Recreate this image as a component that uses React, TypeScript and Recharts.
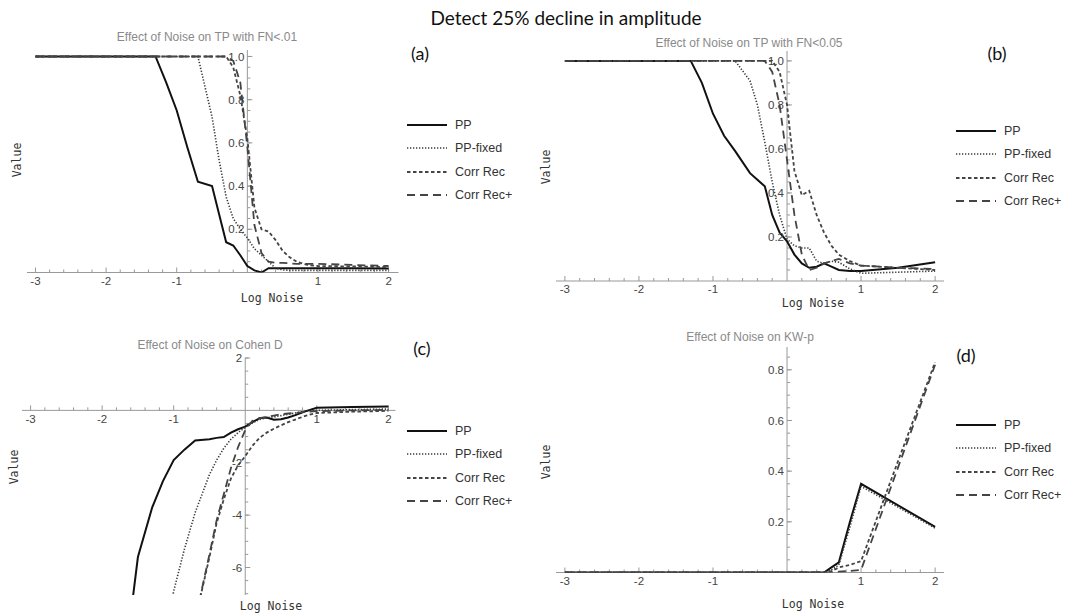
import React from 'react'
import { LineChart, Line, XAxis, YAxis, ReferenceLine, ReferenceDot } from 'recharts'

// log10 of noise level, shared by every panel
const logNoise = [-3, -2.5, -2, -1.7, -1.5, -1.3, -1.15, -1, -0.85, -0.7, -0.5, -0.4, -0.3, -0.2, -0.1, 0, 0.1, 0.2, 0.3, 0.4, 0.5, 0.6, 0.7, 0.85, 1, 1.5, 2]

// (a) TP with FN<.01
const ppA = [1, 1, 1, 1, 1, 1, 0.88, 0.75, 0.58, 0.42, 0.4, 0.27, 0.14, 0.125, 0.08, 0.03, 0.01, 0, 0.02, 0.02, 0.02, 0.02, 0.02, 0.02, 0.02, 0.02, 0.018]
const ppFixedA = [1, 1, 1, 1, 1, 1, 1, 1, 1, 1, 0.72, 0.52, 0.35, 0.25, 0.2, 0.16, 0.11, 0.08, 0.05, 0.02, 0.012, 0.01, 0.01, 0.01, 0.01, 0.01, 0.01]
const corrRecA = [1, 1, 1, 1, 1, 1, 1, 1, 1, 1, 1, 1, 1, 0.95, 0.82, 0.62, 0.3, 0.2, 0.19, 0.15, 0.1, 0.07, 0.05, 0.035, 0.03, 0.028, 0.025]
const corrRecPlusA = [1, 1, 1, 1, 1, 1, 1, 1, 1, 1, 1, 1, 1, 0.98, 0.88, 0.58, 0.22, 0.09, 0.05, 0.045, 0.045, 0.042, 0.04, 0.04, 0.04, 0.035, 0.03]

// (b) TP with FN<0.05
const ppB = [1, 1, 1, 1, 1, 1, 0.9, 0.76, 0.66, 0.59, 0.49, 0.46, 0.43, 0.3, 0.22, 0.18, 0.12, 0.08, 0.06, 0.065, 0.08, 0.065, 0.05, 0.045, 0.045, 0.06, 0.085]
const ppFixedB = [1, 1, 1, 1, 1, 1, 1, 1, 1, 1, 0.91, 0.8, 0.63, 0.45, 0.3, 0.19, 0.16, 0.15, 0.15, 0.09, 0.08, 0.09, 0.085, 0.055, 0.035, 0.04, 0.045]
const corrRecB = [1, 1, 1, 1, 1, 1, 1, 1, 1, 1, 1, 1, 1, 1, 0.95, 0.8, 0.5, 0.39, 0.41, 0.3, 0.22, 0.16, 0.12, 0.09, 0.07, 0.06, 0.05]
const corrRecPlusB = [1, 1, 1, 1, 1, 1, 1, 1, 1, 1, 1, 1, 1, 0.95, 0.8, 0.55, 0.3, 0.12, 0.05, 0.06, 0.08, 0.09, 0.1, 0.08, 0.07, 0.06, 0.055]

// (c) Cohen D
const ppC = [-60, -35, -20, -10, -5.6, -3.7, -2.7, -1.9, -1.5, -1.15, -1.1, -1.05, -1.02, -0.85, -0.72, -0.62, -0.45, -0.3, -0.27, -0.36, -0.34, -0.27, -0.18, -0.03, 0.1, 0.13, 0.15]
const ppFixedC = [-200, -120, -60, -30, -20, -12, -9, -6.9, -5.3, -3.9, -2.45, -1.9, -1.45, -1.1, -0.85, -0.65, -0.48, -0.35, -0.28, -0.25, -0.2, -0.15, -0.1, -0.03, 0, 0.03, 0.05]
const corrRecC = [-300, -200, -100, -60, -40, -25, -18, -13, -10, -8, -5.6, -4.3, -3.4, -2.6, -2.1, -1.75, -1.35, -1.05, -0.85, -0.7, -0.57, -0.45, -0.35, -0.2, -0.1, -0.05, -0.02]
const corrRecPlusC = [-300, -200, -100, -60, -40, -25, -18, -13, -10, -8, -5.5, -4.2, -3.2, -2.2, -1.4, -0.75, -0.4, -0.3, -0.25, -0.2, -0.15, -0.12, -0.1, -0.05, -0.03, 0, 0.02]

// (d) KW-p
const ppD = [0, 0, 0, 0, 0, 0, 0, 0, 0, 0, 0, 0, 0, 0, 0, 0, 0, 0, 0, 0, 0, 0.02, 0.04, 0.2, 0.35, 0.265, 0.18]
const ppFixedD = [0, 0, 0, 0, 0, 0, 0, 0, 0, 0, 0, 0, 0, 0, 0, 0, 0, 0, 0, 0, 0, 0.01, 0.03, 0.18, 0.34, 0.258, 0.175]
const corrRecD = [0, 0, 0, 0, 0, 0, 0, 0, 0, 0, 0, 0, 0, 0, 0, 0, 0, 0, 0, 0, 0, 0.005, 0.02, 0.03, 0.045, 0.44, 0.83]
const corrRecPlusD = [0, 0, 0, 0, 0, 0, 0, 0, 0, 0, 0, 0, 0, 0, 0, 0, 0, 0, 0, 0, 0, 0, 0.003, 0.006, 0.01, 0.415, 0.82]

const xTicks = [-3, -2, -1, 1, 2]
const xTickLabels = ['-3', '-2', '-1', '1', '2']
const yTicksTP = [0.2, 0.4, 0.6, 0.8, 1.0]
const yTickLabelsTP = ['0.2', '0.4', '0.6', '0.8', '1.0']
const yTicksD = [2, -2, -4, -6]
const yTickLabelsD = ['2', '-2', '-4', '-6']
const yTicksKW = [0.2, 0.4, 0.6, 0.8]
const yTickLabelsKW = ['0.2', '0.4', '0.6', '0.8']

const seriesNames = ['PP', 'PP-fixed', 'Corr Rec', 'Corr Rec+']
const seriesKeys = ['pp', 'ppFixed', 'corrRec', 'corrRecPlus']
const styles = [
  { stroke: '#111', width: 2, dash: undefined },
  { stroke: '#3a3a3a', width: 1.6, dash: '1.3 1.7' },
  { stroke: '#444', width: 1.8, dash: '3.5 2.5' },
  { stroke: '#444', width: 1.8, dash: '8 5' },
]

const AXIS = '#999'
const TICK = '#444'

const range = (a: number, b: number, step: number) => {
  const out: number[] = []
  for (let v = a; v <= b + 1e-9; v += step) out.push(Math.round(v * 1000) / 1000)
  return out
}
const xMinor = range(-3, 2, 0.2).filter((v) => Math.abs(v - Math.round(v)) > 1e-6)

type PanelCfg = {
  left: number
  top: number
  width: number
  height: number
  xDomain: [number, number]
  yDomain: [number, number]
  yTicks: number[]
  yLabels: string[]
  yMinor: number[]
  series: number[][]
}

const pad = { top: 12, right: 12, bottom: 26, left: 34 }

function axisMarks(p: PanelCfg) {
  const ux = (p.xDomain[1] - p.xDomain[0]) / p.width
  const uy = (p.yDomain[1] - p.yDomain[0]) / p.height
  const out: React.ReactNode[] = []
  out.push(<ReferenceLine key="xa" y={0} stroke={AXIS} />)
  out.push(<ReferenceLine key="ya" x={0} stroke={AXIS} />)
  xMinor.forEach((t) =>
    out.push(<ReferenceLine key={'xm' + t} segment={[{ x: t, y: 0 }, { x: t, y: 3 * uy }]} stroke={AXIS} />)
  )
  xTicks.forEach((t, i) => {
    out.push(<ReferenceLine key={'xt' + t} segment={[{ x: t, y: 0 }, { x: t, y: 5 * uy }]} stroke={AXIS} />)
    out.push(
      <ReferenceDot key={'xl' + t} x={t} y={0} r={0} fill="none" stroke="none"
        label={{ value: xTickLabels[i], position: 'bottom', offset: 4, fill: TICK, fontSize: 11.5 }} />
    )
  })
  p.yMinor.forEach((t) =>
    out.push(<ReferenceLine key={'ym' + t} segment={[{ x: 0, y: t }, { x: 3 * ux, y: t }]} stroke={AXIS} />)
  )
  p.yTicks.forEach((t, i) => {
    out.push(<ReferenceLine key={'yt' + t} segment={[{ x: 0, y: t }, { x: 5 * ux, y: t }]} stroke={AXIS} />)
    out.push(
      <ReferenceDot key={'yl' + t} x={0} y={t} r={0} fill="none" stroke="none"
        label={{ value: p.yLabels[i], position: 'left', offset: 3, fill: TICK, fontSize: 11.5 }} />
    )
  })
  return out
}

function Panel({ cfg }: { cfg: PanelCfg }) {
  const rows = logNoise.map((x, i) => {
    const r: Record<string, number> = { x }
    seriesKeys.forEach((k, j) => (r[k] = cfg.series[j][i]))
    return r
  })
  return (
    <div style={{ position: 'absolute', left: cfg.left - pad.left, top: cfg.top - pad.top }}>
      <LineChart
        width={cfg.width + pad.left + pad.right}
        height={cfg.height + pad.top + pad.bottom}
        data={rows}
        margin={pad}
      >
        <XAxis type="number" dataKey="x" domain={cfg.xDomain} hide allowDataOverflow />
        <YAxis type="number" domain={cfg.yDomain} hide allowDataOverflow />
        {axisMarks(cfg)}
        {seriesKeys.map((k, j) => (
          <Line
            key={k}
            type="linear"
            dataKey={k}
            stroke={styles[j].stroke}
            strokeWidth={styles[j].width}
            strokeDasharray={styles[j].dash}
            dot={false}
            isAnimationActive={false}
          />
        ))}
      </LineChart>
    </div>
  )
}

function Legend({ left, top }: { left: number; top: number }) {
  return (
    <div style={{ position: 'absolute', left, top }}>
      {seriesNames.map((n, j) => (
        <div key={n} style={{ display: 'flex', alignItems: 'center', height: 23.5 }}>
          <svg width={40} height={10}>
            <line x1={0} x2={40} y1={5} y2={5} stroke={styles[j].stroke}
              strokeWidth={styles[j].width} strokeDasharray={styles[j].dash} />
          </svg>
          <span style={{ marginLeft: 8, fontSize: 12.5, color: '#333' }}>{n}</span>
        </div>
      ))}
    </div>
  )
}

function Txt({ x, y, children, style }: { x: number; y: number; children: React.ReactNode; style?: React.CSSProperties }) {
  return (
    <div style={{ position: 'absolute', left: x, top: y, transform: 'translate(-50%, -50%)', whiteSpace: 'nowrap', ...style }}>
      {children}
    </div>
  )
}

const titleStyle = { fontSize: 12, color: '#8a8a8a' }
const monoStyle = { fontFamily: '"DejaVu Sans Mono", monospace', fontSize: 11.5, color: '#333' }
const letterStyle = { fontFamily: 'Lato, "Open Sans", sans-serif', fontSize: 18, color: '#111' }

const panels: PanelCfg[] = [
  {
    left: 26.5, top: 50, width: 371.5, height: 222.5,
    xDomain: [-3.12, 2.14], yDomain: [0, 1.03],
    yTicks: yTicksTP, yLabels: yTickLabelsTP, yMinor: range(0.05, 1, 0.05),
    series: [ppA, ppFixedA, corrRecA, corrRecPlusA],
  },
  {
    left: 556, top: 51, width: 388, height: 230,
    xDomain: [-3.12, 2.12], yDomain: [0, 1.045],
    yTicks: yTicksTP, yLabels: yTickLabelsTP, yMinor: range(0.05, 1, 0.05),
    series: [ppB, ppFixedB, corrRecB, corrRecPlusB],
  },
  {
    left: 22, top: 357.6, width: 373.5, height: 237,
    xDomain: [-3.12, 2.1], yDomain: [-7.05, 2],
    yTicks: yTicksD, yLabels: yTickLabelsD, yMinor: range(-7, 2, 0.5).filter((v) => v !== 0),
    series: [ppC, ppFixedC, corrRecC, corrRecPlusC],
  },
  {
    left: 556, top: 347, width: 388, height: 225.5,
    xDomain: [-3.12, 2.12], yDomain: [0, 0.89],
    yTicks: yTicksKW, yLabels: yTickLabelsKW, yMinor: range(0.05, 0.85, 0.05),
    series: [ppD, ppFixedD, corrRecD, corrRecPlusD],
  },
]

export default function App() {
  return (
    <div
      style={{
        position: 'absolute', left: 0, top: 0, width: 1068, height: 613, background: '#fff', overflow: 'hidden',
        fontFamily: '"Liberation Sans", Arial, sans-serif',
      }}
    >
      <Txt x={566} y={17} style={{ fontFamily: 'Lato, "Open Sans", sans-serif', fontSize: 19, color: '#111' }}>
        Detect 25% decline in amplitude
      </Txt>

      {panels.map((p, i) => (
        <Panel key={i} cfg={p} />
      ))}

      <Txt x={207} y={37} style={titleStyle}>Effect of Noise on TP with FN&lt;.01</Txt>
      <Txt x={749} y={43} style={titleStyle}>Effect of Noise on TP with FN&lt;0.05</Txt>
      <Txt x={210} y={345} style={titleStyle}>Effect of Noise on Cohen D</Txt>
      <Txt x={750} y={337} style={titleStyle}>Effect of Noise on KW-p</Txt>

      <Txt x={420} y={53} style={letterStyle}>(a)</Txt>
      <Txt x={997} y={53} style={letterStyle}>(b)</Txt>
      <Txt x={422} y={348} style={letterStyle}>(c)</Txt>
      <Txt x={966} y={355} style={letterStyle}>(d)</Txt>

      <Legend left={407} top={113} />
      <Legend left={956} top={119} />
      <Legend left={407} top={419} />
      <Legend left={956} top={413} />

      <Txt x={17} y={160} style={{ ...monoStyle, transform: 'translate(-50%, -50%) rotate(-90deg)' }}>Value</Txt>
      <Txt x={546} y={167} style={{ ...monoStyle, transform: 'translate(-50%, -50%) rotate(-90deg)' }}>Value</Txt>
      <Txt x={14} y={467} style={{ ...monoStyle, transform: 'translate(-50%, -50%) rotate(-90deg)' }}>Value</Txt>
      <Txt x={546} y={462} style={{ ...monoStyle, transform: 'translate(-50%, -50%) rotate(-90deg)' }}>Value</Txt>

      <Txt x={272} y={298} style={monoStyle}>Log Noise</Txt>
      <Txt x={813} y={303} style={monoStyle}>Log Noise</Txt>
      <Txt x={271} y={606} style={monoStyle}>Log Noise</Txt>
      <Txt x={813} y={604} style={monoStyle}>Log Noise</Txt>
    </div>
  )
}
